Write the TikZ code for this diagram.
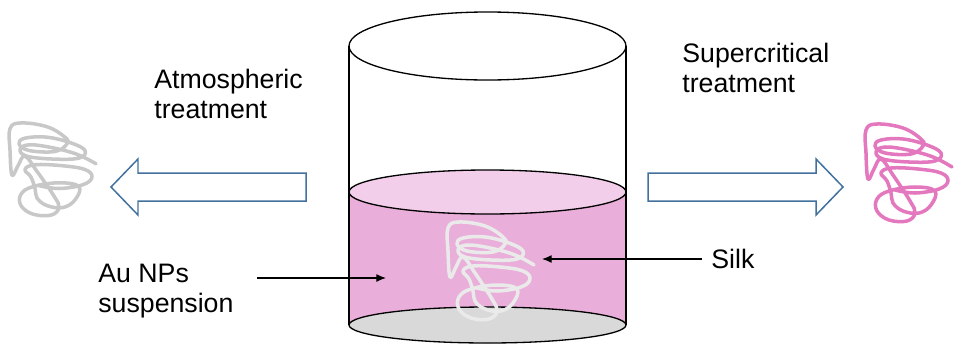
\documentclass[tikz,border=0pt]{standalone}
\usepackage{fontspec}
\setmainfont{Liberation Sans}
\usetikzlibrary{arrows.meta, positioning}

\definecolor{fluid}{RGB}{234,174,218}
\definecolor{fluidtop}{RGB}{242,206,234}
\definecolor{floor}{RGB}{217,217,217}
\definecolor{flow}{RGB}{65,113,156}
\definecolor{silkgray}{RGB}{200,200,200}
\definecolor{silkpink}{RGB}{228,120,190}
\definecolor{silkpale}{RGB}{234,234,234}

\begin{document}
\begin{tikzpicture}[
  x=0.02cm, y=-0.02cm,
  caption/.style={align=left, inner sep=0pt, anchor=north west,
    font=\fontsize{15.2}{17}\selectfont},
  pointer/.style={-{Latex[length=5.5pt, width=4.5pt]}, line width=0.6pt},
  wall/.style={line width=0.75pt},
  bigarrow/.style={draw=flow, line width=0.85pt, fill=white, line join=miter},
  pics/silk/.style={code={
    \draw[line width=2pt, line cap=round, line join=round]
      plot[smooth, tension=0.65] coordinates {
        (89,44) (70,34) (45,27) (22,24) (13,29) (20,36) (46,39) (72,38)
        (78,30) (64,22) (40,16) (18,17) (12,23) (22,30) (48,31) (60,23)
        (58,16) (40,5) (14,1) (3,7) (3,30) (5,56) (11,46) (18,36) (30,52)
        (47,78) (52,90) (44,98) (26,97) (14,88) (14,76) (26,68) (52,64)
        (72,68) (68,82) (56,90) (40,88) (30,80) (28,70) (24,58) (18,50)
        (28,45) (55,46) (78,50) (85,58) (76,66) (52,70) (32,67)};
  }}
]
\useasboundingbox (0,0) rectangle (957,345);

% vessel: empty upper part
\draw[wall, fill=white] (487.5,46) ellipse [x radius=138.5, y radius=34];

% liquid column
\fill[fluid] (349,192) -- (349,325) arc [start angle=180, end angle=0, x radius=138.5, y radius=18] -- (626,192) -- cycle;
\draw[wall] (349,46) -- (349,325);
\draw[wall] (626,46) -- (626,325);
\draw[wall, fill=floor] (487.5,325) ellipse [x radius=138.5, y radius=18];
\draw[wall, fill=fluidtop] (487.5,192) ellipse [x radius=138.5, y radius=22];

% silk inside and after each treatment
\pic[color=silkpale] at (445,221) {silk};
\pic[color=silkgray, yscale=0.95] at (7,122) {silk};
\pic[color=silkpink] at (863,123) {silk};

% process arrows
\draw[bigarrow] (306,173) -- (138,173) -- (138,159) -- (111,187) -- (138,215) -- (138,201) -- (306,201) -- cycle;
\draw[bigarrow] (648,173) -- (816,173) -- (816,159) -- (843,187) -- (816,215) -- (816,201) -- (648,201) -- cycle;

% labels
\node[caption] (atm) at (154,69) {Atmospheric\\treatment};
\node[caption] (scf) at (682,43) {Supercritical\\treatment};
\node[caption] (nps) at (98,264) {Au NPs\\suspension};
\node[caption] (silk) at (711,249) {Silk};

\coordinate (npsTail) at (257,278);
\coordinate (npsHead) at (386,278);
\coordinate (silkTail) at (702,259);
\coordinate (silkHead) at (542,259);
\draw[pointer] (npsTail) -- (npsHead);
\draw[pointer] (silkTail) -- (silkHead);

\end{tikzpicture}
\end{document}
